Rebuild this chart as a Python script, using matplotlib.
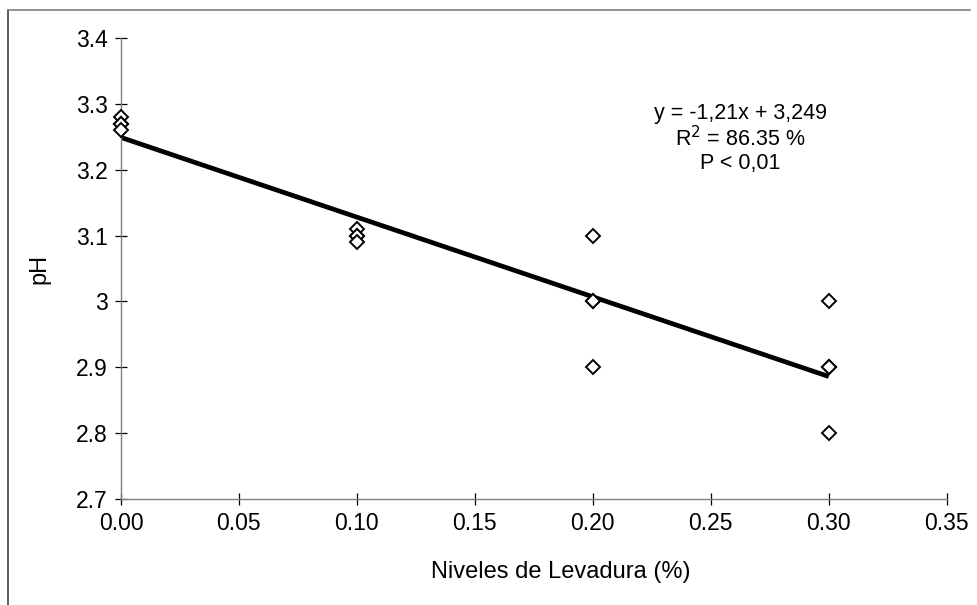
import matplotlib.pyplot as plt
from matplotlib.lines import Line2D

plt.rcParams['font.family'] = ['Liberation Sans', 'DejaVu Sans']

levels = [0.0, 0.10, 0.20, 0.30]
ph_values = [
    [3.28, 3.27, 3.27, 3.26],
    [3.11, 3.10, 3.10, 3.09],
    [3.10, 3.00, 3.00, 2.90],
    [3.00, 2.90, 2.90, 2.80],
]
slope = -1.21
intercept = 3.249
x_ticks = [0.0, 0.05, 0.10, 0.15, 0.20, 0.25, 0.30, 0.35]
x_tick_labels = ['0.00', '0.05', '0.10', '0.15', '0.20', '0.25', '0.30', '0.35']
y_ticks = [2.7, 2.8, 2.9, 3.0, 3.1, 3.2, 3.3, 3.4]
y_tick_labels = ['2.7', '2.8', '2.9', '3', '3.1', '3.2', '3.3', '3.4']

fig = plt.figure(figsize=(9.77, 6.05), dpi=100)
ax = fig.add_axes([0.1238, 0.1752, 0.969 - 0.1238, 0.9372 - 0.1752])

# fitted line
fx = [levels[0], levels[-1]]
fy = [intercept + slope * v for v in fx]
ax.plot(fx, fy, color='black', lw=3.4, solid_capstyle='butt', zorder=2)

for lv, vals in zip(levels, ph_values):
    ax.plot([lv] * len(vals), vals, linestyle='none', marker='D', ms=7.3,
            mfc='white', mec='black', mew=1.4, zorder=3, clip_on=False)

ax.set_xlim(0, 0.35)
ax.set_ylim(2.7, 3.4)
ax.set_xticks(x_ticks)
ax.set_xticklabels(x_tick_labels)
ax.set_yticks(y_ticks)
ax.set_yticklabels(y_tick_labels)

for s in ['top', 'right']:
    ax.spines[s].set_visible(False)
for s in ['left', 'bottom']:
    ax.spines[s].set_color('#808080')
    ax.spines[s].set_linewidth(1.0)

ax.tick_params(direction='inout', length=9, width=0.9, color='black',
               labelsize=16.5, pad=5)
ax.set_xlabel('Niveles de Levadura (%)', fontsize=17)
ax.xaxis.set_label_coords(0.533, -0.135)
ax.set_ylabel('pH', fontsize=17, labelpad=18)

ax.text(0.2625, 3.247, 'y = -1,21x + 3,249\nR$^2$ = 86.35 %\nP < 0,01',
        ha='center', va='center', fontsize=15.5, linespacing=1.1)

# partial frame around the figure
fig.add_artist(Line2D([8 / 977, 8 / 977], [0, 1 - 10 / 605],
                      transform=fig.transFigure, color='#404040', lw=1.2))
fig.add_artist(Line2D([8 / 977, 970 / 977], [1 - 10 / 605, 1 - 10 / 605],
                      transform=fig.transFigure, color='#808080', lw=1.2))

fig.savefig('out.png', dpi=100)
